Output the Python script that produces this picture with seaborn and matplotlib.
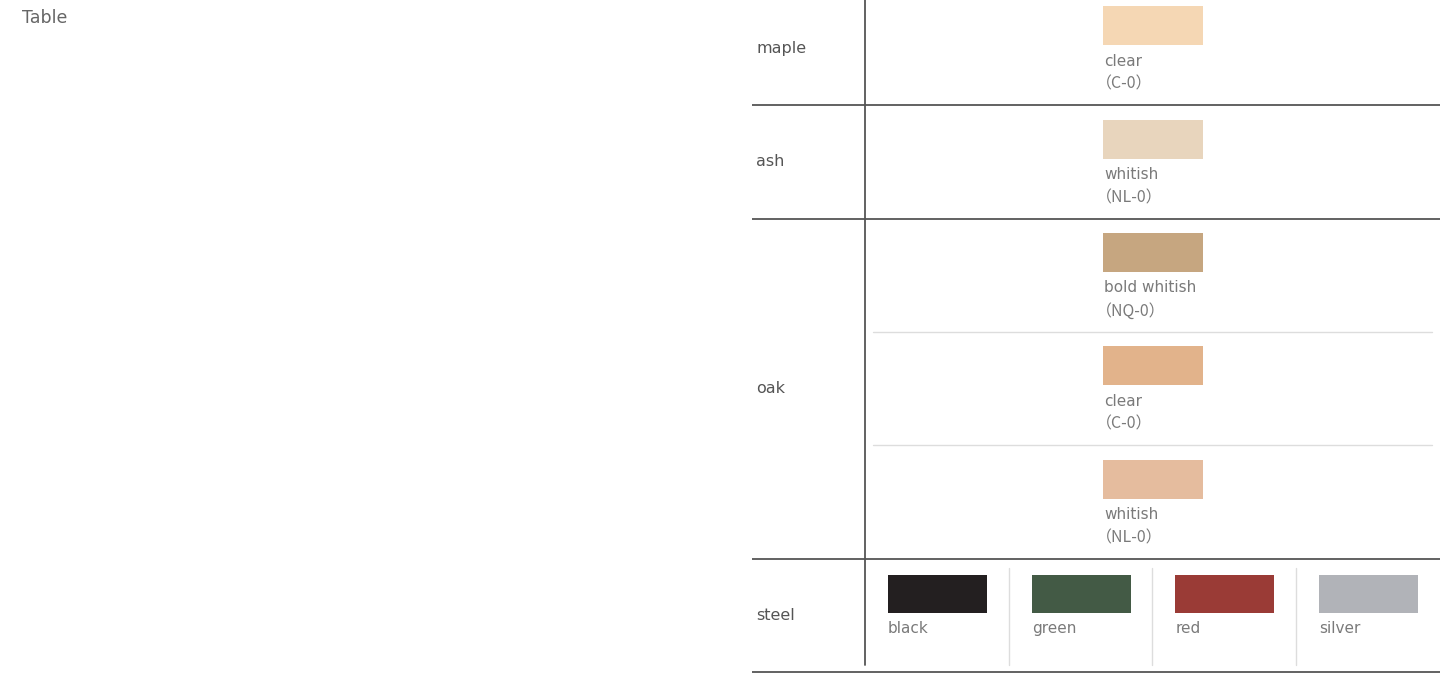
import matplotlib
matplotlib.use("Agg")
import matplotlib.pyplot as plt
import seaborn as sns
from matplotlib.patches import Rectangle

# ---- data ----
materials = ["maple", "ash", "oak", "steel"]
wood_material = ["maple", "ash", "oak", "oak", "oak"]
wood_names = ["clear", "whitish", "bold whitish", "clear", "whitish"]
wood_codes = ["（C-0）", "（NL-0）", "（NQ-0）", "（C-0）", "（NL-0）"]
wood_colors = ["#f5d7b4", "#e8d5bd", "#c6a680", "#e2b38b", "#e5bc9e"]
steel_names = ["black", "green", "red", "silver"]
steel_colors = ["#231f20", "#435a45", "#9a3b36", "#b1b3b8"]
title = "Table"

sns.set_theme(style="white")
plt.rcParams["font.family"] = ["DejaVu Sans", "Noto Sans CJK JP"]

W, H = 1455, 673
fig = plt.figure(figsize=(W / 100, H / 100), dpi=100)
ax = fig.add_axes([0, 0, 1, 1])
ax.set_xlim(0, W)
ax.set_ylim(H, 0)
ax.axis("off")

label_c = "#555555"
text_c = "#7a7a7a"
line_c = "#555555"

ax.text(22, 18, title, fontsize=12.5, color="#666666", va="center", ha="left")

# layout
y0 = -8.3
step = 113.4
left, right = 752, 1440
vx = 865

# number of sub-rows per material
counts = [wood_material.count(m) for m in materials[:3]] + [1]
bounds = [y0]
for c in counts:
    bounds.append(bounds[-1] + c * step)

# material labels and separators
for i, m in enumerate(materials):
    top, bot = bounds[i], bounds[i + 1]
    mid = (max(top, 0) + bot) / 2 if i > 0 else 48
    ax.text(756, mid, m, fontsize=11.5, color=label_c, va="center", ha="left",
            fontweight="medium")
    ax.plot([left, right], [bot, bot], color=line_c, lw=1.3, solid_capstyle="butt")

ax.plot([vx, vx], [0, bounds[-1] - 7], color=line_c, lw=1.3)

# wood swatches
sx, sw, sh = 1103, 100, 39
for k, (nm, cd, col) in enumerate(zip(wood_names, wood_codes, wood_colors)):
    top = y0 + k * step
    ax.add_patch(Rectangle((sx, top + 14.5), sw, sh, facecolor=col, edgecolor="none"))
    ax.text(sx + 1, top + 69.5, nm, fontsize=11, color=text_c, va="center", ha="left")
    ax.text(sx - 7, top + 92.5, cd, fontsize=11.5, color=text_c, va="center", ha="left",
            family=["Noto Sans CJK JP", "DejaVu Sans"])

# light separators inside oak
oak_start = wood_material.index("oak")
for k in range(oak_start + 1, len(wood_material)):
    if wood_material[k] == "oak":
        yy = y0 + k * step
        ax.plot([873, 1432], [yy, yy], color="#dddddd", lw=1.0)

# steel swatches
stop = bounds[3]
colx0, colstep, csw = 888, 143.7, 99
for j, (nm, col) in enumerate(zip(steel_names, steel_colors)):
    x = colx0 + j * colstep
    ax.add_patch(Rectangle((x, stop + 16), csw, 38, facecolor=col, edgecolor="none"))
    ax.text(x, stop + 70, nm, fontsize=11, color=text_c, va="center", ha="left")
    if j > 0:
        sep = x - 23
        ax.plot([sep, sep], [stop + 9, stop + 106], color="#dddddd", lw=1.0)

fig.savefig("out.png", dpi=100)
